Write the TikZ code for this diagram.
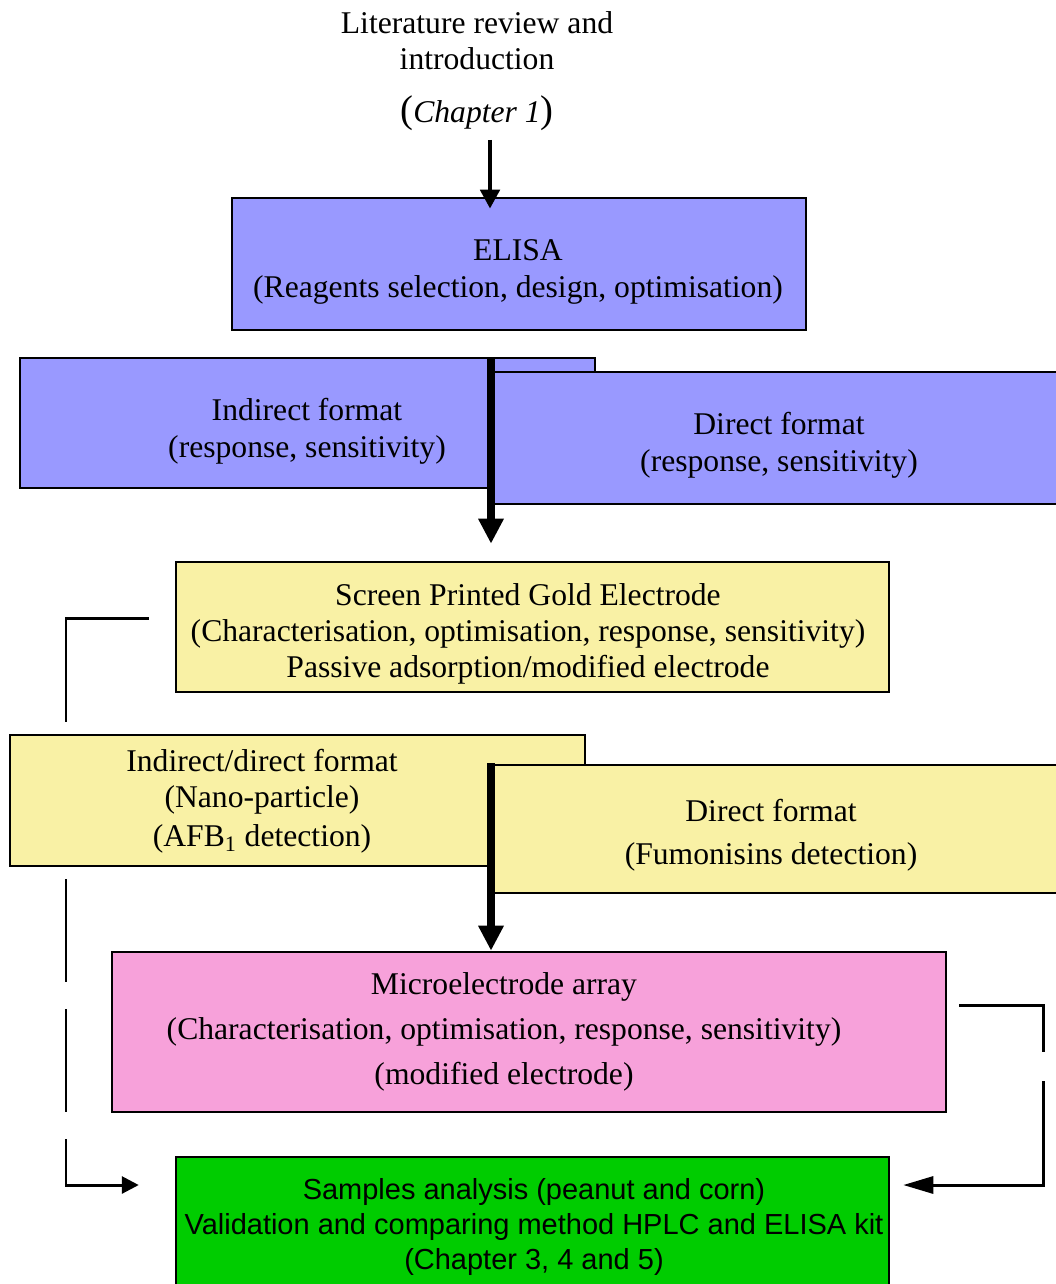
\documentclass[tikz,border=0pt]{standalone}
\usepackage{fontspec}
\setmainfont{Liberation Serif}
\setsansfont{Liberation Sans}
\usetikzlibrary{arrows.meta, positioning, backgrounds, calc}

\definecolor{elisablue}{HTML}{9999FF}
\definecolor{spyellow}{HTML}{F9F1A5}
\definecolor{mepink}{HTML}{F7A1DA}
\definecolor{samgreen}{HTML}{00CC00}

\begin{document}
\begin{tikzpicture}[x=0.02cm, y=-0.02cm,
    box/.style={rectangle, draw, line width=1.5pt, inner sep=0pt},
    bluebox/.style={box, fill=elisablue},
    yellowbox/.style={box, fill=spyellow},
    pinkbox/.style={box, fill=mepink},
    greenbox/.style={box, fill=samgreen},
    txt/.style={align=center, inner sep=0pt, font=\fontsize{18}{21}\selectfont},
    sanstxt/.style={align=center, inner sep=0pt, font=\sffamily\fontsize{16.5}{20}\selectfont},
    lead/.style={line width=2.8pt, -{Triangle[width=0.38cm, length=0.38cm]}},
    flow/.style={line width=4.5pt, -{Triangle[width=0.48cm, length=0.5cm]}},
    link/.style={line width=1.7pt}]

\useasboundingbox (0,0) rectangle (1055,1284);

% Title
\node[txt] (intro) at (477,71) {Literature review and\\introduction\\[9pt]{\fontsize{22}{22}\selectfont(}\textit{Chapter 1}{\fontsize{22}{22}\selectfont)}};

% ELISA part
\node[bluebox, minimum width=11.48cm, minimum height=2.64cm] (elisa) at (519,264) {};
\node[txt] (elisatxt) at (518,272) {ELISA\\(Reagents selection, design, optimisation)};
\node[bluebox, minimum width=11.5cm, minimum height=2.6cm] (indf) at (307.5,423) {};
\node[txt] (indftxt) at (307,431) {Indirect format\\(response, sensitivity)};
\node[bluebox, minimum width=11.52cm, minimum height=2.64cm] (dirf) at (780,438) {};
\node[txt] (dirftxt) at (779,445) {Direct format\\(response, sensitivity)};

% Gold electrode part
\node[yellowbox, minimum width=14.26cm, minimum height=2.6cm] (spge) at (532.5,627) {};
\node[txt, font=\fontsize{18}{20.5}\selectfont] (spgetxt) at (528,634) {Screen Printed Gold Electrode\\(Characterisation, optimisation, response, sensitivity)\\Passive adsorption/modified electrode};
\node[yellowbox, minimum width=11.5cm, minimum height=2.62cm] (idf) at (297.5,800.5) {};
\node[txt] (idftxt) at (262,801) {Indirect/direct format\\(Nano-particle)\\[1pt](AFB\textsubscript{1} detection)};
\node[yellowbox, minimum width=11.52cm, minimum height=2.56cm] (dir2) at (780,829) {};
\node[txt] (dir2txt) at (771,835) {Direct format\\[3.5pt](Fumonisins detection)};

% Microelectrode part
\node[pinkbox, minimum width=16.68cm, minimum height=3.2cm] (micro) at (529,1032) {};
\node[txt] (microtxt) at (504,1032) {Microelectrode array\\[4.5pt](Characterisation, optimisation, response, sensitivity)\\[4.5pt](modified electrode)};

% Samples
\node[greenbox, minimum width=14.26cm, minimum height=2.68cm] (samples) at (532.5,1224) {};
\node[sanstxt] (samplestxt) at (534,1227) {Samples analysis (peanut and corn)\\Validation and comparing method HPLC and ELISA kit\\(Chapter 3, 4 and 5)};

% Main arrows
\coordinate (k0) at (490,140);
\coordinate (k1) at (491,358);
\coordinate (k2) at (491,763);
\draw[lead, shorten >=-0.24cm] (k0) -- (k0 |- elisa.north);
\draw[flow, shorten >=0.34cm] (k1) -- (k1 |- spge.north);
\draw[flow] (k2) -- (k2 |- micro.north);

% Side links
\coordinate (la) at ([xshift=-0.52cm, yshift=0.18cm]spge.west);
\coordinate (lb) at ([xshift=-0.72cm, yshift=0.78cm]samples.west);
\coordinate (lx) at (66,0);
\coordinate (ra) at ([xshift=0.24cm, yshift=0.54cm]micro.east);
\coordinate (rb) at ([xshift=0.26cm, yshift=0.78cm]samples.east);
\coordinate (rx) at (1043,0);
\begin{scope}[on background layer]
\draw[link, dash pattern=on 3.74cm off 0.54cm on 2.06cm off 0.54cm on 2.06cm off 0.54cm on 2.06cm off 0.54cm on 8cm off 0.1cm,
    -{Triangle[width=0.34cm, length=0.34cm]}] (la) -- (la -| lx) -- (lx |- lb) -- (lb);
\draw[link, dash pattern=on 2.62cm off 0.58cm on 10cm off 0.1cm,
    -{Triangle[width=0.34cm, length=0.6cm]}] (ra) -- (ra -| rx) -- (rx |- rb) -- (rb);
\end{scope}

\end{tikzpicture}
\end{document}
